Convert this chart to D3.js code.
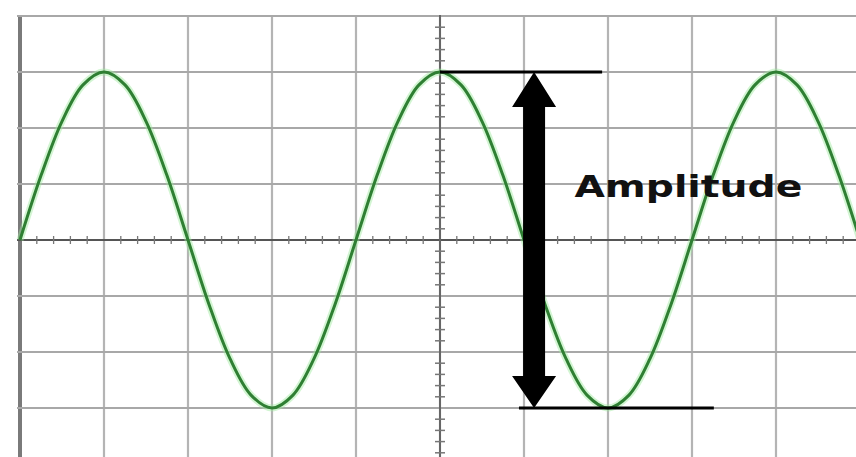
<!DOCTYPE html>
<html><head><meta charset="utf-8">
<script src="https://cdn.jsdelivr.net/npm/d3@7"></script>
<style>html,body{margin:0;padding:0;background:#fff;}svg{display:block;}</style>
</head><body>
<svg id="chart" width="856" height="457"></svg>
<script>
// Sample points of the wave, in grid units
const waveX = [0,0.25,0.5,0.75,1,1.25,1.5,1.75,2,2.25,2.5,2.75,3,3.25,3.5,3.75,4,4.25,4.5,4.75,5,5.25,5.5,5.75,6,6.25,6.5,6.75,7,7.25,7.5,7.75,8,8.25,8.5,8.75,9,9.25,9.5,9.75,10];
const waveY = [0,1.15,2.12,2.77,3,2.77,2.12,1.15,0,-1.15,-2.12,-2.77,-3,-2.77,-2.12,-1.15,0,1.15,2.12,2.77,3,2.77,2.12,1.15,0,-1.15,-2.12,-2.77,-3,-2.77,-2.12,-1.15,0,1.15,2.12,2.77,3,2.77,2.12,1.15,0];
const gridX = [0,1,2,3,4,5,6,7,8,9,10];
const gridY = [-4,-3,-2,-1,0,1,2,3,4];
const axisOriginX = 5;
const amplitudeTop = 3, amplitudeBottom = -3;
const arrowX = 6.12;
const topRule = [5, 6.93];
const bottomRule = [5.94, 8.26];
const labelText = "Amplitude";
const labelPos = [6.6, 0.77];

const svg = d3.select("#chart");
const x = d3.scaleLinear().domain([0,10]).range([20,860]);
const y = d3.scaleLinear().domain([-4,4]).range([464,16]);

// grid
svg.append("g").selectAll("line").data(gridX).join("line")
  .attr("x1",d=>x(d)).attr("x2",d=>x(d)).attr("y1",y(4)-1).attr("y2",457)
  .attr("stroke", d=>d===0?"#7a7a7a":"#b4b4b4")
  .attr("stroke-width", d=>d===0?4:2.2);
svg.append("g").selectAll("line").data(gridY.filter(d=>d!==0)).join("line")
  .attr("x1",17).attr("x2",856).attr("y1",d=>y(d)).attr("y2",d=>y(d))
  .attr("stroke","#a8a8a8").attr("stroke-width",2.2);

// central axes
svg.append("line").attr("x1",17).attr("x2",856).attr("y1",y(0)).attr("y2",y(0))
  .attr("stroke","#555").attr("stroke-width",2);
svg.append("line").attr("x1",x(axisOriginX)).attr("x2",x(axisOriginX)).attr("y1",y(4)-1).attr("y2",457)
  .attr("stroke","#666").attr("stroke-width",2);

// minor ticks
const hTicks = d3.range(0, 10.01, 0.2).filter(v=>Math.abs(v-Math.round(v))>0.01);
svg.append("g").selectAll("line").data(hTicks).join("line")
  .attr("x1",d=>x(d)).attr("x2",d=>x(d)).attr("y1",y(0)-4).attr("y2",y(0)+4)
  .attr("stroke","#777").attr("stroke-width",1.3);
const vTicks = d3.range(-4, 4.01, 0.2).filter(v=>Math.abs(v-Math.round(v))>0.01);
svg.append("g").selectAll("line").data(vTicks).join("line")
  .attr("x1",x(axisOriginX)-5).attr("x2",x(axisOriginX)+5).attr("y1",d=>y(d)).attr("y2",d=>y(d))
  .attr("stroke","#777").attr("stroke-width",1.5);

// wave
const pts = waveX.map((v,i)=>[v, waveY[i]]);
const line = d3.line().x(d=>x(d[0])).y(d=>y(d[1])).curve(d3.curveCatmullRom.alpha(0.5));
svg.append("path").attr("d",line(pts)).attr("fill","none")
  .attr("stroke","#9be89b").attr("stroke-width",7).attr("stroke-opacity",0.45);
svg.append("path").attr("d",line(pts)).attr("fill","none")
  .attr("stroke","#2f7f33").attr("stroke-width",3);

// rules
svg.append("line").attr("x1",x(topRule[0])).attr("x2",x(topRule[1]))
  .attr("y1",y(amplitudeTop)).attr("y2",y(amplitudeTop)).attr("stroke","#000").attr("stroke-width",3);
svg.append("line").attr("x1",x(bottomRule[0])).attr("x2",x(bottomRule[1]))
  .attr("y1",y(amplitudeBottom)).attr("y2",y(amplitudeBottom)).attr("stroke","#000").attr("stroke-width",3);

// arrow
const ax = x(arrowX), yt = y(amplitudeTop), yb = y(amplitudeBottom);
const bw = 11, hw = 22, hh = 35;
const arrowPath = d3.path();
arrowPath.moveTo(ax, yt);
arrowPath.lineTo(ax+hw, yt+hh);
arrowPath.lineTo(ax+bw, yt+hh);
arrowPath.lineTo(ax+bw, yb-hh+3);
arrowPath.lineTo(ax+hw, yb-hh+3);
arrowPath.lineTo(ax, yb);
arrowPath.lineTo(ax-hw, yb-hh+3);
arrowPath.lineTo(ax-bw, yb-hh+3);
arrowPath.lineTo(ax-bw, yt+hh);
arrowPath.lineTo(ax-hw, yt+hh);
arrowPath.closePath();
svg.append("path").attr("d",arrowPath.toString()).attr("fill","#000");

// label
svg.append("text").attr("x",x(labelPos[0])).attr("y",y(labelPos[1]))
  .attr("font-family","'DejaVu Sans', sans-serif").attr("font-weight","bold")
  .attr("font-size",31).attr("fill","#111")
  .attr("textLength",228).attr("lengthAdjust","spacingAndGlyphs")
  .text(labelText);
</script>
</body></html>
